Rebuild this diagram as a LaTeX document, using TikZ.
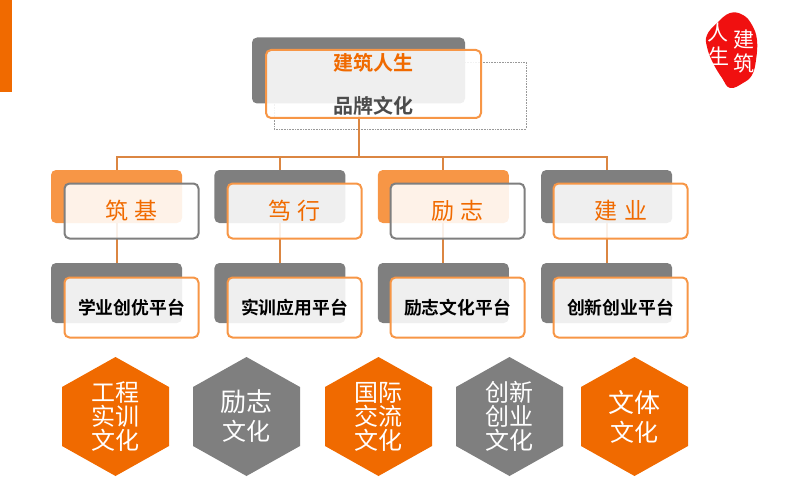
\documentclass[tikz,border=0pt]{standalone}
\usepackage{fontspec}
\usepackage{xcolor}
\usepackage{tikz}
\usetikzlibrary{positioning}
\newfontfamily\cjk{Noto Sans CJK SC}[BoldFont={Noto Sans CJK SC Bold}]
\definecolor{hexorange}{HTML}{F06A00}
\definecolor{hexgray}{HTML}{7F7F7F}
\definecolor{lightorange}{HTML}{F79646}
\definecolor{linkorange}{HTML}{DB8642}
\definecolor{sealred}{HTML}{F01010}
\tikzset{
    backbox/.style={rounded corners=5pt,inner sep=0pt,fill=hexgray},
    frontbox/.style={rounded corners=5pt,inner sep=0pt,draw=lightorange,line width=2pt,
        fill=white,fill opacity=0.88,text opacity=1},
    conn/.style={draw=linkorange,line width=2pt},
    tierlabel/.style={font=\cjk\fontsize{23}{26}\selectfont,text=hexorange},
    platlabel/.style={font=\cjk\bfseries\fontsize{17.8}{20}\selectfont,text=black},
    hexlabel/.style={font=\cjk\fontsize{24}{24}\selectfont,text=white,align=center},
    seallabel/.style={font=\cjk\fontsize{21}{21}\selectfont,text=white,inner sep=0pt},
}
\newcommand{\hexcell}[4]{
    \fill [#2] (#3,357) -- ++(53.5,30) -- ++(0,59) -- ++(-53.5,30) -- ++(-53.5,-30) -- ++(0,-59) -- cycle;
    \node [hexlabel] (#1) at (#3,416.5) {#4};
}
\begin{document}
\begin{tikzpicture}[x=1pt,y=-1pt]
    \useasboundingbox (0,0) rectangle (800,500);
    \fill [hexorange] (0,0) rectangle (12,92);

    \draw [gray!80,densely dotted,line width=0.6pt] (274,62) rectangle (526,129);

    \node [backbox,minimum width=213pt,minimum height=66pt] (brandback) at (358.5,70.5) {};
    \coordinate (bus) at (358.5,157);

    \node [backbox,fill=lightorange,minimum width=131pt,minimum height=53pt] (zhujiback) at (116.5,196.5) {};
    \node [backbox,right=32pt of zhujiback,minimum width=131pt,minimum height=53pt] (duxingback) {};
    \node [backbox,fill=lightorange,right=32pt of duxingback,minimum width=131pt,minimum height=53pt] (lizhiback) {};
    \node [backbox,right=32pt of lizhiback,minimum width=131pt,minimum height=53pt] (jianyeback) {};

    \node [backbox,minimum width=131pt,minimum height=60pt] (xueyeback) at (116.5,293) {};
    \node [backbox,right=32pt of xueyeback,minimum width=131pt,minimum height=60pt] (shixunback) {};
    \node [backbox,right=32pt of shixunback,minimum width=131pt,minimum height=60pt] (lizhiplatback) {};
    \node [backbox,right=32pt of lizhiplatback,minimum width=131pt,minimum height=60pt] (chuangxinback) {};

    \path [conn] (brandback.south) -- (bus);
    \path [conn] (bus) -| (zhujiback.north);
    \path [conn] (bus) -| (duxingback.north);
    \path [conn] (bus) -| (lizhiback.north);
    \path [conn] (bus) -| (jianyeback.north);
    \path [conn] (zhujiback.south) -- (xueyeback.north);
    \path [conn] (duxingback.south) -- (shixunback.north);
    \path [conn] (lizhiback.south) -- (lizhiplatback.north);
    \path [conn] (jianyeback.south) -- (chuangxinback.north);

    \node [frontbox,minimum width=215pt,minimum height=68pt,align=center,font=\cjk\bfseries\fontsize{20}{43}\selectfont] (brand) at (373.5,84)
        {\textcolor{hexorange}{建筑人生}\\\textcolor{black!70}{品牌文化}};

    \node [frontbox,draw=hexgray,minimum width=134pt,minimum height=55pt,tierlabel] (zhuji) at (131.5,211) {筑\hspace{7pt}基};
    \node [frontbox,minimum width=134pt,minimum height=55pt,tierlabel] (duxing) at (294.5,211) {笃\hspace{7pt}行};
    \node [frontbox,draw=hexgray,minimum width=134pt,minimum height=55pt,tierlabel] (lizhi) at (457.5,211) {励\hspace{7pt}志};
    \node [frontbox,minimum width=134pt,minimum height=55pt,tierlabel] (jianye) at (620.5,211) {建\hspace{7pt}业};

    \node [frontbox,minimum width=134pt,minimum height=60pt,platlabel] (xueye) at (131.5,307.5) {学业创优平台};
    \node [frontbox,minimum width=134pt,minimum height=60pt,platlabel] (shixun) at (294.5,307.5) {实训应用平台};
    \node [frontbox,minimum width=134pt,minimum height=60pt,platlabel] (lizhiplat) at (457.5,307.5) {励志文化平台};
    \node [frontbox,minimum width=134pt,minimum height=60pt,platlabel] (chuangxin) at (620.5,307.5) {创新创业平台};

    \hexcell{gongcheng}{hexorange}{115.5}{工程\\实训\\文化}
    \hexcell{lizhihex}{hexgray}{246.5}{\fontsize{26}{31}\selectfont 励志\\[5pt]文化}
    \hexcell{guoji}{hexorange}{378.5}{国际\\交流\\文化}
    \hexcell{chuangye}{hexgray}{509.5}{创新\\创业\\文化}
    \hexcell{wenti}{hexorange}{634.5}{\fontsize{26}{31}\selectfont 文体\\[5pt]文化}

    \fill [sealred] plot [smooth cycle,tension=0.7] coordinates {(730,13) (743,15) (752,25) (757,40) (756,60) (752,75) (743,83) (730,88) (722,78) (713,63) (707,47) (707,35) (717,23)};
    \node [seallabel] (sealjian) at (744,40) {建};
    \node [seallabel] (sealzhu) at (744,63) {筑};
    \node [seallabel] (sealren) at (718,33) {人};
    \node [seallabel] (sealsheng) at (719,56) {生};
\end{tikzpicture}
\end{document}
